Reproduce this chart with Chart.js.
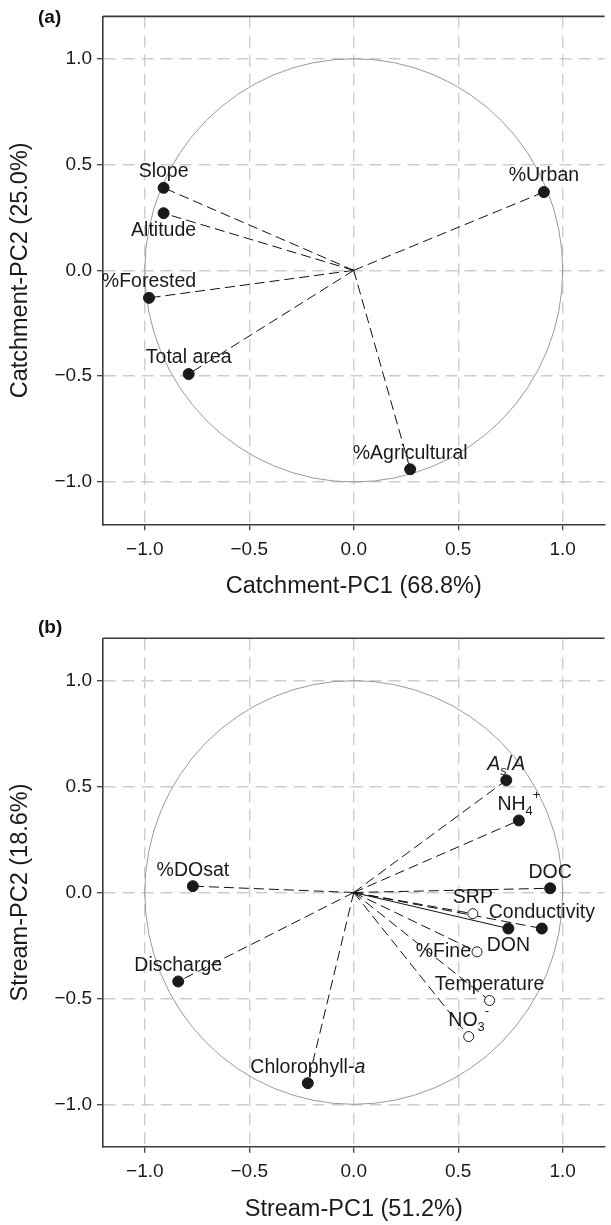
<!DOCTYPE html>
<html>
<head>
<meta charset="utf-8">
<script src="https://cdn.jsdelivr.net/npm/chart.js@4"></script>
<style>
  html, body { margin: 0; padding: 0; background: #fff; overflow: hidden; }
  #wrapA { position: absolute; left: 0; top: 0; width: 611px; height: 610px; }
  #wrapB { position: absolute; left: 0; top: 610px; width: 611px; height: 615px; }
</style>
</head>
<body>
<div id="wrapA"><canvas id="chartA" width="611" height="610"></canvas></div>
<div id="wrapB"><canvas id="chartB" width="611" height="615"></canvas></div>
<script>
const FONT = '"Liberation Sans", Arial, Helvetica, sans-serif';

// (a) catchment PCA loadings
const catchVars = ['Slope', 'Altitude', '%Urban', '%Forested', 'Total area', '%Agricultural'];
const catchPC1 = [-0.91, -0.91, 0.91, -0.98, -0.79, 0.27];
const catchPC2 = [0.39, 0.27, 0.37, -0.13, -0.49, -0.94];
const catchLabelPos = ['above', 'below', 'above', 'above', 'above', 'above'];

// (b) stream PCA loadings
const streamVars = ['As/A', 'NH4+', '%DOsat', 'DOC', 'SRP', 'Conductivity', 'DON', '%Fine', 'Temperature', 'NO3-', 'Discharge', 'Chlorophyll-a'];
const streamPC1 = [0.73, 0.79, -0.77, 0.94, 0.57, 0.90, 0.74, 0.59, 0.65, 0.55, -0.84, -0.22];
const streamPC2 = [0.53, 0.34, 0.03, 0.02, -0.10, -0.17, -0.17, -0.28, -0.51, -0.68, -0.42, -0.90];
const streamOpen = [false, false, false, false, true, false, false, true, true, true, false, false];
const streamSolid = [false, false, false, false, false, false, true, false, false, false, false, false];
const streamLabelPos = ['above', 'above', 'above', 'above', 'above', 'above', 'below', 'left', 'above', 'above', 'above', 'above'];

const tickValues = [-1, -0.5, 0, 0.5, 1];
const tickLabels = ['\u22121.0', '\u22120.5', '0.0', '0.5', '1.0'];

// labels with sub/superscripts or italics
const richLabels = {
  'As/A': [{t: 'A', i: 1}, {t: 's', i: 1, sub: 1}, {t: '/'}, {t: 'A', i: 1}],
  'NH4+': [{t: 'NH'}, {t: '4', sub: 1}, {t: '+', sup: 1}],
  'NO3-': [{t: 'NO'}, {t: '3', sub: 1}, {t: '-', sup: 1}],
  'Chlorophyll-a': [{t: 'Chlorophyll-'}, {t: 'a', i: 1}]
};

function drawLabel(ctx, text, x, y, align) {
  const segs = richLabels[text] || [{t: text}];
  const size = 19.5;
  const fontOf = s => (s.i ? 'italic ' : '') + ((s.sub || s.sup) ? size * 0.66 : size) + 'px ' + FONT;
  let w = 0;
  segs.forEach(s => { ctx.font = fontOf(s); s.w = ctx.measureText(s.t).width; w += s.w; });
  let cx = align === 'right' ? x - w : x - w / 2;
  ctx.textBaseline = 'middle';
  ctx.textAlign = 'left';
  ctx.fillStyle = '#1a1a1a';
  segs.forEach(s => {
    ctx.font = fontOf(s);
    const dy = s.sub ? size * 0.36 : s.sup ? -size * 0.45 : 0;
    ctx.fillText(s.t, cx, y + dy);
    cx += s.w;
  });
}

const decor = {
  id: 'decor',
  beforeDatasetsDraw(chart, args, opts) {
    const {ctx, chartArea: a, scales: {x, y}} = chart;
    const cx = x.getPixelForValue(0), cy = y.getPixelForValue(0);
    ctx.save();
    ctx.beginPath();
    ctx.ellipse(cx, cy, x.getPixelForValue(1) - cx, cy - y.getPixelForValue(1), 0, 0, Math.PI * 2);
    ctx.strokeStyle = '#9a9a9a';
    ctx.lineWidth = 1;
    ctx.stroke();
    // top frame line
    ctx.beginPath();
    ctx.moveTo(a.left, a.top);
    ctx.lineTo(a.right, a.top);
    ctx.strokeStyle = '#3a3a3a';
    ctx.lineWidth = 1.6;
    ctx.stroke();
    ctx.restore();
  },
  afterDatasetsDraw(chart, args, opts) {
    const {ctx, scales: {x, y}} = chart;
    ctx.save();
    opts.vars.forEach((name, i) => {
      const px = x.getPixelForValue(opts.pc1[i]);
      const py = y.getPixelForValue(opts.pc2[i]);
      const pos = opts.pos[i];
      if (pos === 'below') drawLabel(ctx, name, px, py + 17, 'center');
      else if (pos === 'left') drawLabel(ctx, name, px - 6, py, 'right');
      else drawLabel(ctx, name, px, py - 16, 'center');
    });
    ctx.font = 'bold 19px ' + FONT;
    ctx.textAlign = 'left';
    ctx.textBaseline = 'middle';
    ctx.fillStyle = '#111';
    ctx.fillText(opts.panel, 38, opts.panelY);
    ctx.restore();
  }
};

function makeAxis(o, isX) {
  return {
    type: 'linear',
    min: -1.2,
    max: 1.2,
    afterBuildTicks: s => { s.ticks = tickValues.map(v => ({value: v})); },
    afterFit: s => { if (isX) s.height = o.xAxisH; else s.width = 103; },
    ticks: {
      callback: (v, idx) => tickLabels[idx],
      font: {family: FONT, size: 19},
      color: '#1a1a1a',
      padding: isX ? 8 : 5,
      maxRotation: 0,
      autoSkip: false
    },
    grid: {color: '#cdcdcd', lineWidth: 1.4, tickColor: '#333', tickLength: 6, tickWidth: 1.2, tickBorderDash: []},
    border: {display: true, color: '#3a3a3a', width: 1.6, dash: [12, 7]},
    title: {
      display: true,
      text: isX ? o.xTitle : o.yTitle,
      font: {family: FONT, size: 23.5, lineHeight: 1.2},
      color: '#1a1a1a',
      padding: isX ? {top: 0, bottom: o.xTitlePad} : {top: 6.4, bottom: 0}
    }
  };
}

function makeChart(id, o) {
  const datasets = [];
  o.vars.forEach((name, i) => {
    datasets.push({
      type: 'scatter',
      data: [{x: 0, y: 0}, {x: o.pc1[i], y: o.pc2[i]}],
      showLine: true,
      borderColor: '#111',
      borderWidth: 1,
      borderDash: (o.solid && o.solid[i]) ? [] : [10, 5],
      pointRadius: 0,
      pointHoverRadius: 0,
      order: 1
    });
  });
  // markers on top of the vectors
  datasets.push({
    type: 'scatter',
    data: o.pc1.map((v, i) => ({x: v, y: o.pc2[i]})),
    pointRadius: o.vars.map((_, i) => (o.open && o.open[i]) ? 5 : 5.5),
    pointBackgroundColor: o.vars.map((_, i) => (o.open && o.open[i]) ? '#fff' : '#1a1a1a'),
    pointBorderColor: '#1a1a1a',
    pointBorderWidth: 1,
    showLine: false,
    order: 0
  });

  return new Chart(document.getElementById(id), {
    type: 'scatter',
    data: {datasets},
    plugins: [decor],
    options: {
      responsive: false,
      animation: false,
      layout: {padding: {top: o.padTop, left: 0, right: 0, bottom: 0}},
      scales: {x: makeAxis(o, true), y: makeAxis(o, false)},
      plugins: {
        legend: {display: false},
        tooltip: {enabled: false},
        decor: {vars: o.vars, pc1: o.pc1, pc2: o.pc2, pos: o.labelPos, panel: o.panel, panelY: o.panelY}
      }
    }
  });
}

makeChart('chartA', {
  vars: catchVars, pc1: catchPC1, pc2: catchPC2, labelPos: catchLabelPos,
  xTitle: 'Catchment-PC1 (68.8%)', yTitle: 'Catchment-PC2 (25.0%)',
  panel: '(a)', panelY: 18, padTop: 16.3, xAxisH: 85.7, xTitlePad: 8.9
});

makeChart('chartB', {
  vars: streamVars, pc1: streamPC1, pc2: streamPC2, labelPos: streamLabelPos,
  open: streamOpen, solid: streamSolid,
  xTitle: 'Stream-PC1 (51.2%)', yTitle: 'Stream-PC2 (18.6%)',
  panel: '(b)', panelY: 17.3, padTop: 28.3, xAxisH: 78.3, xTitlePad: 0.9
});
</script>
</body>
</html>
